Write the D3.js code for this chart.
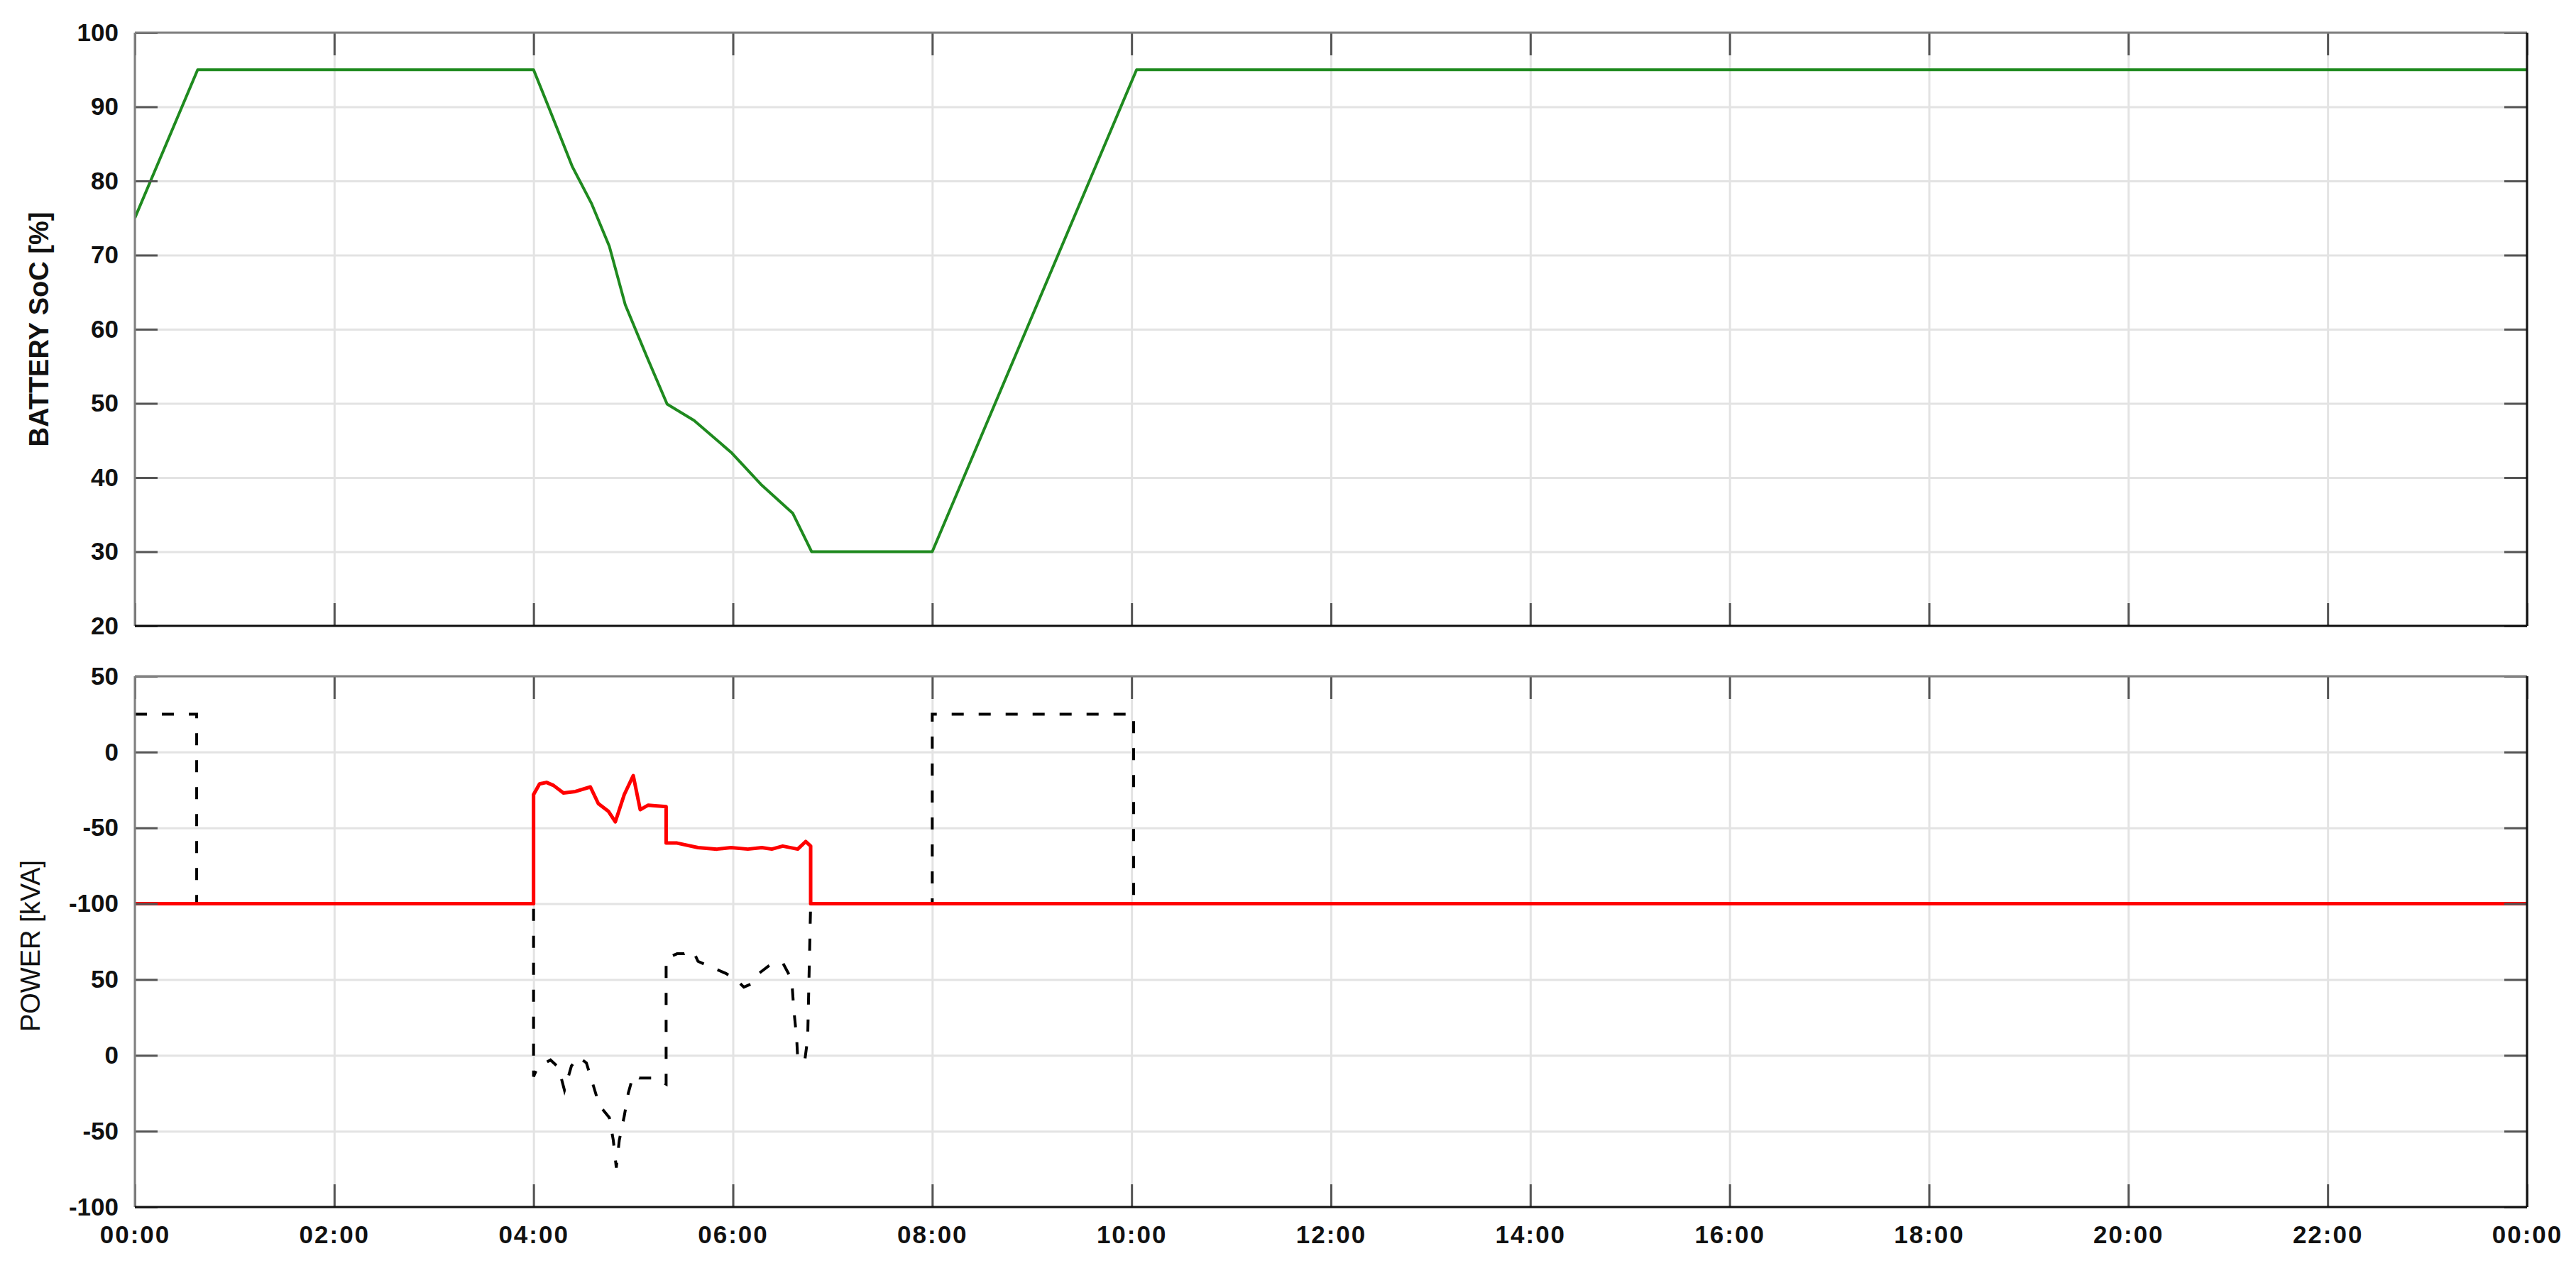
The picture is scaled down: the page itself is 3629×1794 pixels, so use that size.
<!DOCTYPE html>
<html>
<head>
<meta charset="utf-8">
<script src="https://d3js.org/d3.v7.min.js"></script>
<style>
	html, body { margin: 0; padding: 0; background: #fff; }
	svg { display: block; font-family: "Liberation Sans", Arial, Helvetica, sans-serif; }
</style>
</head>
<body>
<svg id="chart" width="3629" height="1794"></svg>
<script>
(function() {
	'use strict';

	// hours from midnight, one tick every two hours
	const hourTicks = [0, 2, 4, 6, 8, 10, 12, 14, 16, 18, 20, 22, 24];

	// battery state of charge [%]
	const socTicks = [20, 30, 40, 50, 60, 70, 80, 90, 100];
	const socHours = [0, 0.63, 4.0, 4.15, 4.39, 4.58, 4.76, 4.92, 5.13, 5.34, 5.61, 5.99, 6.28, 6.60, 6.79, 8.0, 10.05, 24];
	const socValues = [75, 95, 95, 90, 81.9, 77, 71.2, 63.3, 56.5, 49.9, 47.7, 43.3, 39.1, 35.2, 30, 30, 95, 95];

	// power panel has two stacked bands on one axis:
	// the lower band (labels 50 .. -100) sits 200 below the upper band
	const powerTicks = [50, 0, -50, -100, -150, -200, -250, -300];
	const powerTickLabels = ['50', '0', '-50', '-100', '50', '0', '-50', '-100'];

	// red solid series
	const redHours = [0, 4.0, 4.0, 4.06, 4.13, 4.20, 4.30, 4.42, 4.57, 4.65, 4.75, 4.82, 4.91, 5.0, 5.07, 5.15, 5.33, 5.33,
		5.44, 5.65, 5.84, 5.98, 6.15, 6.29, 6.39, 6.50, 6.65, 6.73, 6.78, 6.78, 24];
	const redValues = [-100, -100, -28, -21, -20, -22, -27, -26, -23, -34, -39, -46, -28, -15.5, -38, -35, -36, -60,
		-60, -63, -64, -63, -64, -63, -64, -62, -64, -59, -62, -100, -100];

	// black dashed series (values on the stacked axis)
	const blackHours = [0, 0.62, 0.62, 4.0, 4.0, 4.04, 4.17, 4.25, 4.31, 4.38, 4.45, 4.53, 4.60, 4.66, 4.76, 4.80, 4.83,
		4.86, 4.91, 4.95, 5.0, 5.06, 5.22, 5.33, 5.33, 5.44, 5.51, 5.60, 5.65, 5.79, 5.93, 6.03, 6.11, 6.18, 6.24,
		6.38, 6.50, 6.59, 6.61, 6.64, 6.65, 6.72, 6.75, 6.78, 8.0, 8.0, 10.02, 10.02, 24];
	const blackValues = [25, 25, -100, -100, -214, -208, -203, -208, -223, -207, -201, -205, -220, -233, -241, -256, -274,
		-256, -240, -225, -213, -215, -215, -219, -136, -133, -133, -131, -138, -142, -146, -150, -155, -153, -147,
		-140, -139, -150, -169, -189, -202, -204, -189, -100, -100, 25, 25, -100, -100];

	const svg = d3.select('#chart');
	const left = 190;
	const right = 3560;
	const tickLen = 32;

	const x = d3.scaleLinear().domain([0, 24]).range([left, right]);
	const ySoc = d3.scaleLinear().domain([20, 100]).range([882, 46]);
	const yPow = d3.scaleLinear().domain([-300, 50]).range([1701, 953]);

	const fmtHour = function(h) {
		return d3.format('02d')(h % 24) + ':00';
	};

	function styleTicks(g) {
		g.select('.domain').remove();
		g.selectAll('.tick line').attr('stroke', '#555').attr('stroke-width', 3);
	}

	function drawPanel(y, yTicks, yLabel, name, showHours) {
		const yBottom = y.range()[0];
		const yTop = y.range()[1];
		const g = svg.append('g').attr('class', 'panel-' + name);

		// grid
		g.append('g')
			.attr('transform', 'translate(0,' + yBottom + ')')
			.call(d3.axisBottom(x).tickValues(hourTicks).tickSize(-(yBottom - yTop)).tickFormat(''))
			.call(function(a) {
				a.select('.domain').remove();
				a.selectAll('.tick line').attr('stroke', '#e3e3e3').attr('stroke-width', 3);
			});
		g.append('g')
			.attr('transform', 'translate(' + left + ',0)')
			.call(d3.axisLeft(y).tickValues(yTicks).tickSize(-(right - left)).tickFormat(''))
			.call(function(a) {
				a.select('.domain').remove();
				a.selectAll('.tick line').attr('stroke', '#e3e3e3').attr('stroke-width', 3);
			});

		g.append('defs').append('clipPath').attr('id', 'clip-' + name)
			.append('rect')
			.attr('x', left).attr('y', yTop)
			.attr('width', right - left).attr('height', yBottom - yTop);

		const plot = g.append('g').attr('class', 'plot').attr('clip-path', 'url(#clip-' + name + ')');

		// inward ticks on all four sides
		const leftAxis = g.append('g')
			.attr('transform', 'translate(' + left + ',0)')
			.call(d3.axisLeft(y).tickValues(yTicks).tickSize(-tickLen).tickPadding(23)
				.tickFormat(function(d, i) { return yLabel[i]; }))
			.call(styleTicks);
		leftAxis.attr('font-size', 35).attr('font-family', null);
		leftAxis.selectAll('text').attr('fill', '#111').attr('font-weight', 'bold');

		g.append('g')
			.attr('transform', 'translate(' + right + ',0)')
			.call(d3.axisRight(y).tickValues(yTicks).tickSize(-tickLen).tickFormat(''))
			.call(styleTicks);
		g.append('g')
			.attr('transform', 'translate(0,' + yTop + ')')
			.call(d3.axisTop(x).tickValues(hourTicks).tickSize(-tickLen).tickFormat(''))
			.call(styleTicks);
		const bottomAxis = g.append('g')
			.attr('transform', 'translate(0,' + yBottom + ')')
			.call(d3.axisBottom(x).tickValues(hourTicks).tickSize(-tickLen).tickPadding(26)
				.tickFormat(showHours ? fmtHour : ''))
			.call(styleTicks);
		bottomAxis.attr('font-size', 35).attr('font-family', null);
		bottomAxis.selectAll('text').attr('fill', '#111').attr('font-weight', 'bold').attr('letter-spacing', 2);

		// box: grey top/left, dark bottom/right
		g.append('line').attr('x1', left).attr('x2', right).attr('y1', yTop).attr('y2', yTop)
			.attr('stroke', '#808080').attr('stroke-width', 3);
		g.append('line').attr('x1', left).attr('x2', left).attr('y1', yTop).attr('y2', yBottom)
			.attr('stroke', '#808080').attr('stroke-width', 3);
		g.append('line').attr('x1', left).attr('x2', right).attr('y1', yBottom).attr('y2', yBottom)
			.attr('stroke', '#111').attr('stroke-width', 3);
		g.append('line').attr('x1', right).attr('x2', right).attr('y1', yTop).attr('y2', yBottom)
			.attr('stroke', '#111').attr('stroke-width', 3);

		return plot;
	}

	const socPlot = drawPanel(ySoc, socTicks, socTicks.map(String), 'soc', false);
	const powPlot = drawPanel(yPow, powerTicks, powerTickLabels, 'power', true);

	const line = function(y) {
		return d3.line()
			.x(function(d) { return x(d[0]); })
			.y(function(d) { return y(d[1]); });
	};

	socPlot.append('path')
		.datum(d3.zip(socHours, socValues))
		.attr('fill', 'none')
		.attr('stroke', '#1f8a1f')
		.attr('stroke-width', 4)
		.attr('stroke-linejoin', 'round')
		.attr('d', line(ySoc));

	powPlot.append('path')
		.datum(d3.zip(blackHours, blackValues))
		.attr('fill', 'none')
		.attr('stroke', '#000')
		.attr('stroke-width', 4)
		.attr('stroke-dasharray', '17,21')
		.attr('d', line(yPow));

	powPlot.append('path')
		.datum(d3.zip(redHours, redValues))
		.attr('fill', 'none')
		.attr('stroke', '#ff0000')
		.attr('stroke-width', 5)
		.attr('stroke-linejoin', 'round')
		.attr('d', line(yPow));

	// y axis titles
	svg.append('text')
		.attr('transform', 'translate(68,464) rotate(-90)')
		.attr('text-anchor', 'middle')
		.attr('font-size', 38)
		.attr('font-weight', 'bold')
		.attr('fill', '#111')
		.text('BATTERY SoC [%]');

	svg.append('text')
		.attr('transform', 'translate(56,1333) rotate(-90)')
		.attr('text-anchor', 'middle')
		.attr('font-size', 38)
		.attr('fill', '#111')
		.text('POWER [kVA]');
})();
</script>
</body>
</html>
